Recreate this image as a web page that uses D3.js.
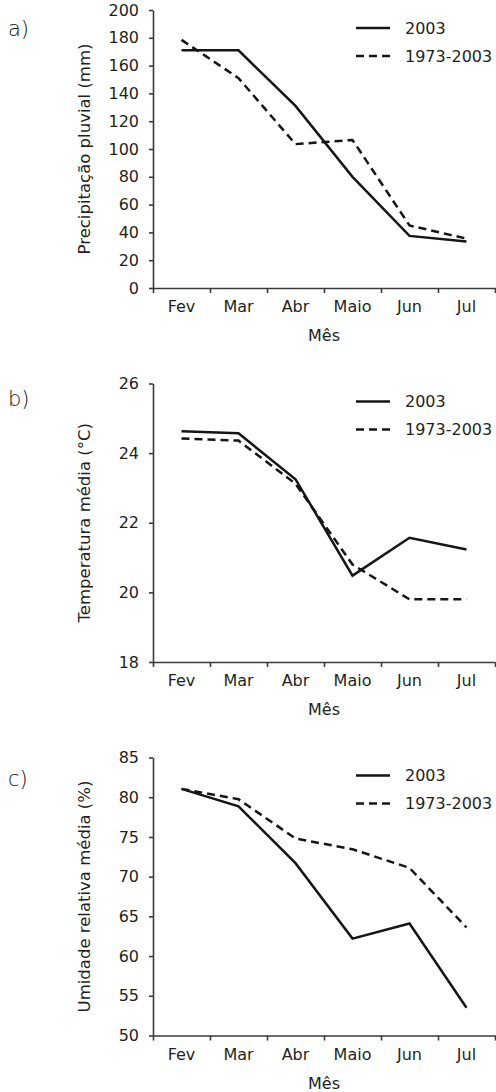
<!DOCTYPE html>
<html lang="pt">
<head>
  <meta charset="UTF-8">
  <title>clima 2003</title>
  <style>
    body { margin: 0; background: #fff; }
    text { font-family: "DejaVu Sans", sans-serif; fill: #231f20; }
  </style>
</head>
<body>
  <script src="https://cdn.jsdelivr.net/npm/d3@7/dist/d3.min.js"></script>
  <script>
    // meses (eixo x)
    var months = ["Fev", "Mar", "Abr", "Maio", "Jun", "Jul"];
    var seriesNames = ["2003", "1973-2003"];

    // a) precipitacao pluvial (mm)
    var rain2003 = [171, 171, 131, 80, 37.5, 33.5];
    var rainHist = [178.5, 151, 103.5, 106.5, 45, 35.5];
    var rainTicks = [0, 20, 40, 60, 80, 100, 120, 140, 160, 180, 200];

    // b) temperatura media (C)
    var temp2003 = [24.63, 24.57, 23.25, 20.48, 21.57, 21.23];
    var tempHist = [24.42, 24.36, 23.12, 20.8, 19.8, 19.8];
    var tempTicks = [18, 20, 22, 24, 26];

    // c) umidade relativa media (%)
    var hum2003 = [81.05, 78.85, 71.7, 62.2, 64.1, 53.5];
    var humHist = [81.05, 79.75, 74.8, 73.45, 71.1, 63.6];
    var humTicks = [50, 55, 60, 65, 70, 75, 80, 85];

    var width = 496, height = 1092;
    var left = 153, right = 495;

    var panels = [
      { letter: "a)", title: "Precipitação pluvial (mm)", top: 10, bottom: 288, letterY: 36,
        ticks: rainTicks, series: [rain2003, rainHist] },
      { letter: "b)", title: "Temperatura média (°C)", top: 383.5, bottom: 662, letterY: 406,
        ticks: tempTicks, series: [temp2003, tempHist] },
      { letter: "c)", title: "Umidade relativa média (%)", top: 757.5, bottom: 1035.5, letterY: 786,
        ticks: humTicks, series: [hum2003, humHist] }
    ];

    var svg = d3.select("body")
      .append("svg")
      .attr("width", width)
      .attr("height", height);

    // x: indice do mes, ticks nas bordas, pontos no meio
    var x = d3.scaleLinear().domain([0, months.length]).range([left, right]);
    var dashes = [null, "8,5"];

    panels.forEach(function(p) {
      var g = svg.append("g");
      var y = d3.scaleLinear()
        .domain(d3.extent(p.ticks))
        .range([p.bottom, p.top]);

      // eixo y
      var ya = g.append("g")
        .attr("transform", "translate(" + left + ",0)")
        .call(d3.axisLeft(y).tickValues(p.ticks).tickSize(4).tickPadding(10).tickSizeOuter(0));
      ya.selectAll("text").attr("font-size", "16px").style("font-family", "DejaVu Sans");

      // eixo x
      g.append("g")
        .attr("transform", "translate(0," + p.bottom + ")")
        .call(d3.axisBottom(x).tickValues(d3.range(months.length + 1)).tickSize(5)
          .tickFormat("").tickSizeOuter(0));

      g.selectAll(".domain, .tick line")
        .attr("stroke", "#3a3a3a")
        .attr("stroke-width", 1.6);

      g.selectAll(".mlabel")
        .data(months)
        .enter()
        .append("text")
        .attr("class", "mlabel")
        .attr("x", function(d, i) { return x(i + 0.5); })
        .attr("y", p.bottom + 24)
        .attr("text-anchor", "middle")
        .attr("font-size", "16px")
        .text(function(d) { return d; });

      g.append("text")
        .attr("x", x(months.length / 2))
        .attr("y", p.bottom + 53)
        .attr("text-anchor", "middle")
        .attr("font-size", "16px")
        .text("Mês");

      g.append("text")
        .attr("transform", "rotate(-90)")
        .attr("x", -(p.top + p.bottom) / 2)
        .attr("y", 90)
        .attr("text-anchor", "middle")
        .attr("font-size", "16.5px")
        .text(p.title);

      g.append("text")
        .attr("x", 8)
        .attr("y", p.letterY)
        .attr("font-size", "21px")
        .attr("font-weight", 300)
        .style("fill", "#111")
        .text(p.letter);

      // linhas
      var line = d3.line()
        .x(function(d, i) { return x(i + 0.5); })
        .y(function(d) { return y(d); });

      p.series.forEach(function(s, k) {
        g.append("path")
          .datum(s)
          .attr("fill", "none")
          .attr("stroke", "#151515")
          .attr("stroke-width", 2.5)
          .attr("stroke-dasharray", dashes[k])
          .attr("d", line);
      });

      // legenda
      seriesNames.forEach(function(name, k) {
        var ly = p.top + 18 + k * 28;
        g.append("line")
          .attr("x1", 356).attr("x2", 390)
          .attr("y1", ly).attr("y2", ly)
          .attr("stroke", "#151515")
          .attr("stroke-width", 2.5)
          .attr("stroke-dasharray", dashes[k]);
        g.append("text")
          .attr("x", 405)
          .attr("y", ly + 5.5)
          .attr("font-size", "16px")
          .text(name);
      });
    });
  </script>
</body>
</html>
